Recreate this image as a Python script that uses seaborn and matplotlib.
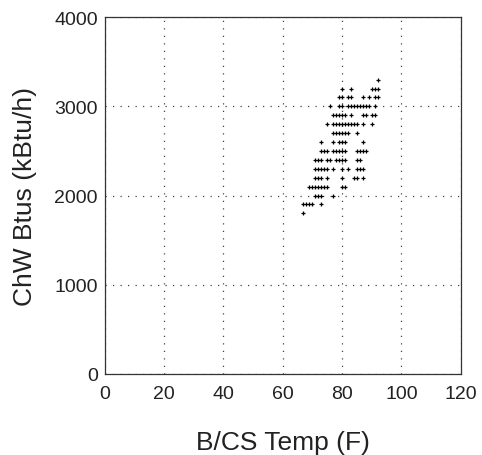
import pandas as pd
import matplotlib
matplotlib.use("Agg")
import matplotlib.pyplot as plt
import seaborn as sns

# chilled water btus vs building/cs temperature
# each row of points sits on a 100 kBtu/h level
btu_levels = [3300, 3200, 3100, 3000, 2900, 2800, 2700, 2600,
              2500, 2400, 2300, 2200, 2100, 2000, 1900, 1800]
temps_per_level = [
    [92],
    [80, 83, 90, 91, 92],
    [79, 80, 82, 83, 87, 89, 91, 92],
    [76, 79, 80, 82, 83, 84, 85, 86, 87, 88, 89, 91],
    [77, 78, 79, 80, 81, 83, 87, 88, 90, 91],
    [75, 77, 78, 79, 80, 81, 82, 83, 84, 85, 87, 90],
    [77, 78, 79, 80, 81, 82, 85],
    [73, 77, 79, 80, 81, 87],
    [73, 74, 75, 77, 78, 79, 80, 81, 85, 86, 87, 88],
    [71, 72, 73, 75, 76, 78, 79, 80, 81, 85, 86],
    [71, 72, 73, 74, 75, 77, 80, 82, 85, 86, 87],
    [71, 72, 73, 75, 80, 84, 85, 87],
    [69, 70, 71, 72, 73, 74, 75, 80, 81],
    [71, 72, 73, 77],
    [67, 68, 69, 70, 73],
    [67],
]
x_ticks = [0, 20, 40, 60, 80, 100, 120]
y_ticks = [0, 1000, 2000, 3000, 4000]

rows = []
for level, temps in zip(btu_levels, temps_per_level):
    for t in temps:
        rows.append({"temp": t, "btu": level})
df = pd.DataFrame(rows)

sns.set_style("white")
plt.rcParams["font.family"] = ["Liberation Sans", "DejaVu Sans"]

fig = plt.figure(figsize=(4.82, 4.56), dpi=100)
ax = fig.add_axes([0.217, 0.178, 0.739, 0.782])

sns.scatterplot(data=df, x="temp", y="btu", marker="+", color="black",
                s=12, linewidth=0.9, ax=ax, legend=False)

ax.set_xlim(0, 120)
ax.set_ylim(0, 4000)
ax.set_xticks(x_ticks)
ax.set_yticks(y_ticks)
ax.grid(True, linestyle=(0, (1, 5)), color="#444444", linewidth=0.9)
ax.tick_params(axis="both", length=0, labelsize=14, colors="#222222")
ax.tick_params(axis="x", pad=8)
ax.tick_params(axis="y", pad=5)
for sp in ax.spines.values():
    sp.set_color("#333333")
    sp.set_linewidth(0.9)

ax.set_xlabel("B/CS Temp (F)", fontsize=19, labelpad=20, color="#222222")
ax.set_ylabel("ChW Btus (kBtu/h)", fontsize=19, labelpad=12, color="#222222")

fig.savefig("out.png", dpi=100)
